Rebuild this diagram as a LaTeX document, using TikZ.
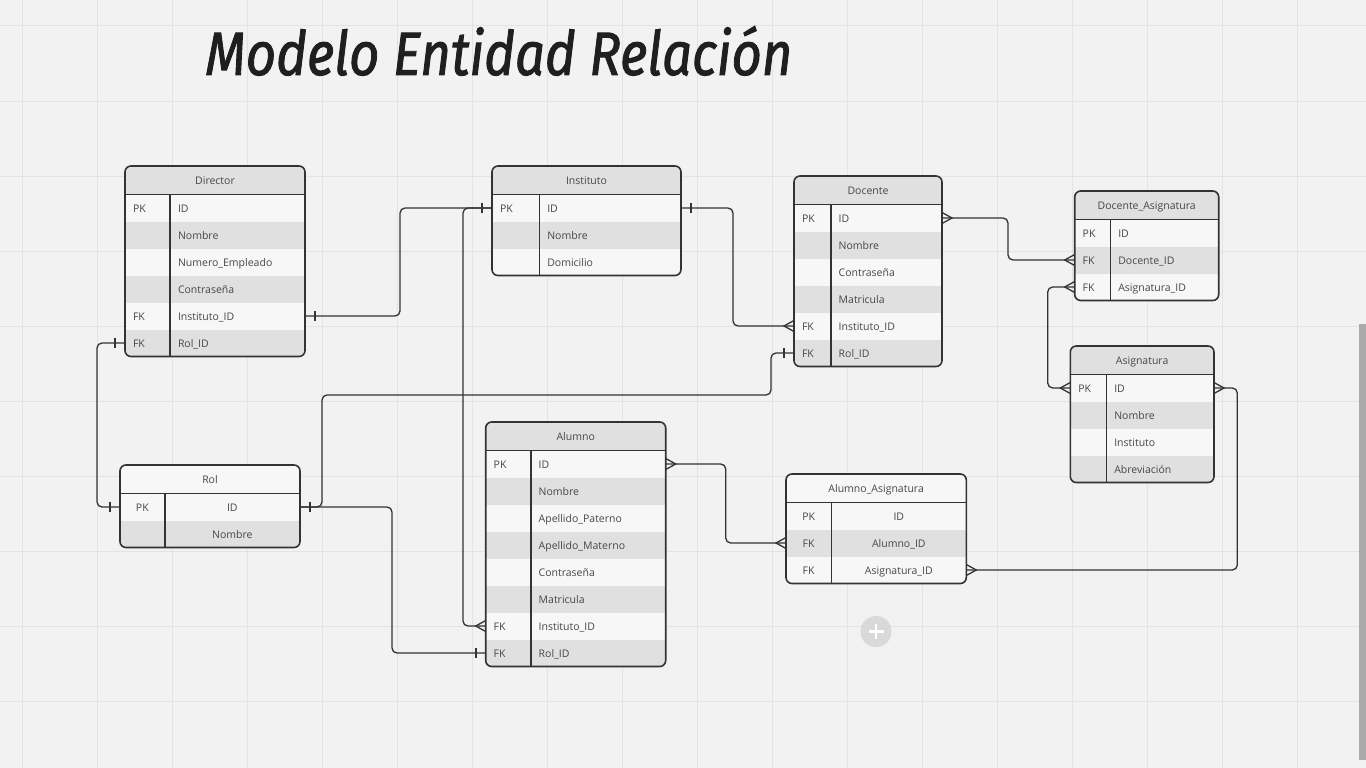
\documentclass[tikz,border=0pt]{standalone}
\usepackage{fontspec}
\setmainfont{Open Sans}
\newfontfamily\titlefont{Fira Sans}[FakeBold=1.6]
\usepackage{tikz}
\usetikzlibrary{calc}

\definecolor{canvas}{HTML}{F2F2F2}
\definecolor{gridc}{HTML}{E3E3E3}
\definecolor{rowlight}{HTML}{F7F7F7}
\definecolor{rowdark}{HTML}{E0E0E0}
\definecolor{ink}{HTML}{333333}
\definecolor{txt}{HTML}{474747}
\definecolor{scroll}{HTML}{AAAAAA}
\definecolor{addbg}{HTML}{D9D9D9}

% bar (one) and crow's foot (many); #2 = 1 east side, -1 west side
\newcommand{\onemark}[2]{\draw[ermark] ($(#1)+({10*#2},-5)$) -- ++(0,10);}
\newcommand{\manymark}[2]{\draw[conn, sharp corners] ($(#1)+(0,-5.5)$) -- ($(#1)+({10*#2},0)$) -- ($(#1)+(0,5.5)$);}

% #1 name, #2 left, #3 top of first row, #4 width, #5 key column,
% #6 title, #7 header fill, #8 text align, #9 rows name/key/field
\newcommand{\ertable}[9]{%
  \foreach [count=\j] \rr in {#9} {\xdef\nrows{\j}}
  \pgfmathsetmacro{\tabh}{28.5+27*\nrows}
  \pgfmathsetmacro{\kw}{#5-16}
  \pgfmathsetmacro{\fw}{#4-#5-16}
  \begin{scope}
    \clip[rounded corners=6pt] (#2,{#3-28.5}) rectangle ++(#4,\tabh);
    \node[erhead, fill=#7, minimum width=#4pt, anchor=south west] (#1) at (#2,#3) {#6};
    \foreach [count=\i] \rn/\rk/\rf in {#9} {
      \ifodd\i\relax \def\rowfill{rowlight}\else \def\rowfill{rowdark}\fi
      \node[errow, fill=\rowfill, minimum width=#4pt, anchor=north west]
        (#1-\rn) at (#2,{#3+27*(\i-1)}) {};
      \node[ertext, text width=\kw pt, align=#8] at ({#2+#5/2},{#3+27*\i-13.5}) {\rk};
      \node[ertext, text width=\fw pt, align=#8] at ({#2+#5+(#4-#5)/2},{#3+27*\i-13.5}) {\rf};
    }
  \end{scope}
  \draw[erframe] (#2,#3) -- ++(#4,0);
  \draw[erframe] ({#2+#5},#3) -- ++(0,{27*\nrows});
  \draw[erframe, rounded corners=6pt] (#2,{#3-28.5}) rectangle ++(#4,\tabh);
}

\begin{document}
\begin{tikzpicture}[
  x=1pt, y=-1pt,
  erhead/.style={rectangle, minimum height=28.5pt, inner sep=0pt, outer sep=0pt,
    font=\fontsize{10.5}{12}\selectfont, text=txt, text height=10.5pt, text depth=1.5pt},
  errow/.style={rectangle, minimum height=27pt, inner sep=0pt, outer sep=0pt},
  ertext/.style={inner sep=0pt, font=\fontsize{10.5}{12}\selectfont, text=txt,
    text height=10.5pt, text depth=1.5pt},
  erframe/.style={draw=ink, line width=1.6pt},
  conn/.style={draw=ink, line width=1.3pt, rounded corners=5pt},
  ermark/.style={draw=ink, line width=1.8pt},
  ]
  \useasboundingbox (0,0) rectangle (1366,768);

  % --- canvas and grid ---
  \fill[canvas] (0,0) rectangle (1366,768);
  \foreach \x in {22,97,...,1297}
    \draw[gridc, line width=1pt] (\x,0) -- (\x,768);
  \foreach \y in {26,101,...,701}
    \draw[gridc, line width=1pt] (0,\y) -- (1366,\y);

  % --- title ---
  \node[anchor=base west, inner sep=0pt, text=black!88] (title) at (205,75)
    {\titlefont\itshape\resizebox{587pt}{49pt}{Modelo Entidad Relación}};

  % --- tables ---
  \ertable{dir}{125}{194.5}{180}{45}{Director}{rowdark}{left}
    {id/PK/ID, nombre//Nombre, num//Numero\_Empleado, pass//Contraseña,
     inst/FK/Instituto\_ID, rol/FK/Rol\_ID}
  \ertable{inst}{492}{194.5}{189}{47.3}{Instituto}{rowdark}{left}
    {id/PK/ID, nombre//Nombre, dom//Domicilio}
  \ertable{doc}{794}{204.5}{148}{36.7}{Docente}{rowdark}{left}
    {id/PK/ID, nombre//Nombre, pass//Contraseña, mat//Matricula,
     inst/FK/Instituto\_ID, rol/FK/Rol\_ID}
  \ertable{da}{1074.7}{219.5}{144}{35.6}{Docente\_Asignatura}{rowdark}{left}
    {id/PK/ID, doc/FK/Docente\_ID, asig/FK/Asignatura\_ID}
  \ertable{asig}{1070.3}{374.5}{143.7}{36}{Asignatura}{rowdark}{left}
    {id/PK/ID, nombre//Nombre, inst//Instituto, abrev//Abreviación}
  \ertable{rol}{120}{493.5}{180}{44.7}{Rol}{rowlight}{center}
    {id/PK/ID, nombre//Nombre}
  \ertable{alu}{485.7}{450.5}{180}{45}{Alumno}{rowdark}{left}
    {id/PK/ID, nombre//Nombre, apat//Apellido\_Paterno, amat//Apellido\_Materno,
     pass//Contraseña, mat//Matricula, inst/FK/Instituto\_ID, rol/FK/Rol\_ID}
  \ertable{aa}{786}{502.5}{180.3}{45.3}{Alumno\_Asignatura}{rowlight}{center}
    {id/PK/ID, alu/FK/Alumno\_ID, asig/FK/Asignatura\_ID}

  % --- relations ---
  \draw[conn] (dir-inst.east) -- ++(95,0) |- (inst-id.west);
  \draw[conn] (dir-rol.west) -- ++(-28,0) |- (rol-id.west);
  \draw[conn] (inst-id.west) -- ++(-29,0) |- (alu-inst.west);
  \draw[conn] (inst-id.east) -- ++(52,0) |- (doc-inst.west);
  \draw[conn] (doc-rol.west) -- ++(-23,0) -- ++(0,42)
    -| ([xshift=22pt]rol-id.east) -- (rol-id.east);
  \draw[conn] (rol-id.east) -- ++(92,0) |- (alu-rol.west);
  \draw[conn] (doc-id.east) -- ++(66,0) |- (da-doc.west);
  \draw[conn] (da-asig.west) -- ++(-27,0) |- (asig-id.west);
  \draw[conn] (alu-id.east) -- ++(60,0) |- (aa-alu.west);
  \draw[conn] (aa-asig.east) -- ++(271,0) |- (asig-id.east);

  % one ends
  \onemark{dir-inst.east}{1}
  \onemark{inst-id.west}{-1}
  \onemark{dir-rol.west}{-1}
  \onemark{rol-id.west}{-1}
  \onemark{inst-id.east}{1}
  \onemark{doc-rol.west}{-1}
  \onemark{rol-id.east}{1}
  \onemark{alu-rol.west}{-1}

  % many ends
  \manymark{alu-inst.west}{-1}
  \manymark{doc-inst.west}{-1}
  \manymark{doc-id.east}{1}
  \manymark{da-doc.west}{-1}
  \manymark{da-asig.west}{-1}
  \manymark{asig-id.west}{-1}
  \manymark{alu-id.east}{1}
  \manymark{aa-alu.west}{-1}
  \manymark{aa-asig.east}{1}
  \manymark{asig-id.east}{1}

  % --- add button and scroll bar ---
  \node[circle, fill=addbg, minimum size=31pt, inner sep=0pt] (add) at (876,631.5) {};
  \draw[white, line width=2.2pt] ($(add)+(-7.5,0)$) -- ($(add)+(7.5,0)$);
  \draw[white, line width=2.2pt] ($(add)+(0,-7.5)$) -- ($(add)+(0,7.5)$);
  \fill[scroll] (1359,324) rectangle (1366,760);

\end{tikzpicture}
\end{document}
